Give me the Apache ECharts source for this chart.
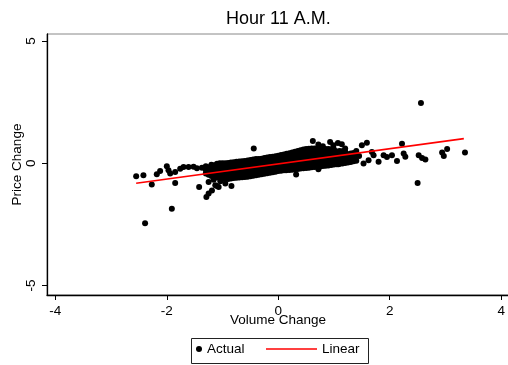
<!DOCTYPE html>
<html>
<head>
<meta charset="utf-8">
<script src="https://cdn.jsdelivr.net/npm/echarts@6/dist/echarts.min.js"></script>
<style>
  html, body { margin: 0; padding: 0; background: #fff; }
  #chart { width: 508px; height: 365px; }
</style>
</head>
<body>
<div id="chart"></div>
<script>
// ticks
const xTicks = [-4, -2, 0, 2, 4];
const yTicks = [-5, 0, 5];

const actualOutliers = [
  [-2.55, -0.53], [-2.42, -0.49], [-2.27, -0.87], [-2.39, -2.45], [-1.91, -1.86],
  [-2.18, -0.45], [-2.12, -0.32], [-2.0, -0.12], [-1.94, -0.42], [-1.97, -0.29],
  [-1.85, -0.36], [-1.85, -0.81], [-1.76, -0.22], [-1.70, -0.15], [-1.61, -0.15],
  [-1.52, -0.14], [-1.46, -0.2], [-1.42, -0.97], [-1.29, -1.38], [-1.25, -1.24],
  [-1.19, -1.11], [-1.13, -0.9], [-1.10, -0.93], [-1.25, -0.77], [-1.16, -0.67],
  [-1.04, -0.74], [-0.95, -0.83], [-0.84, -0.93], [-1.07, -0.97], [-1.37, -0.18],
  [-0.44, 0.6], [0.14, -0.29], [0.32, -0.46], [0.72, -0.24], [0.62, 0.91],
  [0.72, 0.77], [0.8, 0.7], [0.93, 0.87], [0.99, 0.74], [1.07, 0.83],
  [1.14, 0.78], [1.5, 0.74], [1.59, 0.84], [1.53, -0.01], [1.45, 0.3],
  [1.62, 0.12], [1.68, 0.46], [1.71, 0.33], [1.80, 0.06], [1.89, 0.33],
  [1.95, 0.26], [2.04, 0.33], [2.13, 0.09], [2.22, 0.8], [2.25, 0.4],
  [2.28, 0.27], [2.52, 0.33], [2.58, 0.22], [2.64, 0.15], [2.56, 2.47],
  [2.5, -0.81], [2.94, 0.44], [2.97, 0.3], [3.03, 0.58], [3.35, 0.44],
  [1.08, -0.04], [1.3, 0.05], [1.4, 0.5], [1.2, 0.6]
];

// the dense core of the cloud, column by column
const actualCore = [
  [-1.3, -0.42], [-1.3, -0.28], [-1.3, -0.12],
  [-1.25, -0.47], [-1.25, -0.32], [-1.25, -0.16],
  [-1.2, -0.52], [-1.2, -0.36], [-1.2, -0.2], [-1.2, -0.06],
  [-1.15, -0.55], [-1.15, -0.39], [-1.15, -0.23], [-1.15, -0.08],
  [-1.1, -0.58], [-1.1, -0.42], [-1.1, -0.26], [-1.1, -0.1], [-1.1, -0.02],
  [-1.05, -0.6], [-1.05, -0.44], [-1.05, -0.28], [-1.05, -0.12], [-1.05, 0.0],
  [-1.0, -0.62], [-1.0, -0.46], [-1.0, -0.3], [-1.0, -0.14], [-1.0, 0.0],
  [-0.95, -0.63], [-0.95, -0.47], [-0.95, -0.31], [-0.95, -0.15], [-0.95, 0.0],
  [-0.9, -0.64], [-0.9, -0.48], [-0.9, -0.32], [-0.9, -0.16], [-0.9, 0.01],
  [-0.85, -0.62], [-0.85, -0.46], [-0.85, -0.3], [-0.85, -0.14], [-0.85, 0.03],
  [-0.8, -0.6], [-0.8, -0.44], [-0.8, -0.28], [-0.8, -0.12], [-0.8, 0.04],
  [-0.75, -0.59], [-0.75, -0.43], [-0.75, -0.27], [-0.75, -0.11], [-0.75, 0.06],
  [-0.7, -0.58], [-0.7, -0.42], [-0.7, -0.26], [-0.7, -0.1], [-0.7, 0.07],
  [-0.65, -0.57], [-0.65, -0.41], [-0.65, -0.25], [-0.65, -0.09], [-0.65, 0.08],
  [-0.6, -0.56], [-0.6, -0.4], [-0.6, -0.24], [-0.6, -0.08], [-0.6, 0.09],
  [-0.55, -0.55], [-0.55, -0.39], [-0.55, -0.23], [-0.55, -0.07], [-0.55, 0.11],
  [-0.5, -0.53], [-0.5, -0.37], [-0.5, -0.21], [-0.5, -0.05], [-0.5, 0.13],
  [-0.45, -0.51], [-0.45, -0.35], [-0.45, -0.19], [-0.45, -0.03], [-0.45, 0.15],
  [-0.4, -0.49], [-0.4, -0.33], [-0.4, -0.17], [-0.4, -0.01], [-0.4, 0.17],
  [-0.35, -0.47], [-0.35, -0.31], [-0.35, -0.15], [-0.35, 0.01], [-0.35, 0.18],
  [-0.3, -0.45], [-0.3, -0.29], [-0.3, -0.13], [-0.3, 0.03], [-0.3, 0.19],
  [-0.25, -0.43], [-0.25, -0.27], [-0.25, -0.11], [-0.25, 0.05], [-0.25, 0.22],
  [-0.2, -0.41], [-0.2, -0.25], [-0.2, -0.09], [-0.2, 0.07], [-0.2, 0.24],
  [-0.15, -0.39], [-0.15, -0.23], [-0.15, -0.07], [-0.15, 0.09], [-0.15, 0.26],
  [-0.1, -0.37], [-0.1, -0.21], [-0.1, -0.05], [-0.1, 0.11], [-0.1, 0.27],
  [-0.05, -0.35], [-0.05, -0.19], [-0.05, -0.03], [-0.05, 0.13], [-0.05, 0.29],
  [0.0, -0.32], [0.0, -0.16], [0.0, 0.0], [0.0, 0.16], [0.0, 0.31],
  [0.05, -0.31], [0.05, -0.15], [0.05, 0.01], [0.05, 0.17], [0.05, 0.34],
  [0.1, -0.29], [0.1, -0.13], [0.1, 0.03], [0.1, 0.19], [0.1, 0.36],
  [0.15, -0.28], [0.15, -0.12], [0.15, 0.05], [0.15, 0.22], [0.15, 0.39],
  [0.2, -0.27], [0.2, -0.1], [0.2, 0.07], [0.2, 0.24], [0.2, 0.41],
  [0.25, -0.26], [0.25, -0.09], [0.25, 0.08], [0.25, 0.26], [0.25, 0.44],
  [0.3, -0.24], [0.3, -0.07], [0.3, 0.1], [0.3, 0.28], [0.3, 0.47],
  [0.35, -0.23], [0.35, -0.05], [0.35, 0.12], [0.35, 0.3], [0.35, 0.5],
  [0.4, -0.21], [0.4, -0.03], [0.4, 0.15], [0.4, 0.33], [0.4, 0.53],
  [0.45, -0.2], [0.45, -0.02], [0.45, 0.17], [0.45, 0.36], [0.45, 0.56],
  [0.5, -0.19], [0.5, 0.0], [0.5, 0.19], [0.5, 0.38], [0.5, 0.58],
  [0.55, -0.18], [0.55, 0.02], [0.55, 0.2], [0.55, 0.4], [0.55, 0.59],
  [0.6, -0.16], [0.6, 0.03], [0.6, 0.22], [0.6, 0.41], [0.6, 0.6],
  [0.65, -0.15], [0.65, 0.04], [0.65, 0.23], [0.65, 0.42], [0.65, 0.6],
  [0.7, -0.14], [0.7, 0.05], [0.7, 0.24], [0.7, 0.43], [0.7, 0.61],
  [0.75, -0.13], [0.75, 0.06], [0.75, 0.25], [0.75, 0.43], [0.75, 0.6],
  [0.8, -0.11], [0.8, 0.08], [0.8, 0.27], [0.8, 0.44], [0.8, 0.59],
  [0.85, -0.1], [0.85, 0.09], [0.85, 0.28], [0.85, 0.45], [0.85, 0.58],
  [0.9, -0.09], [0.9, 0.1], [0.9, 0.29], [0.9, 0.45], [0.9, 0.58],
  [0.95, -0.07], [0.95, 0.11], [0.95, 0.3], [0.95, 0.46], [0.95, 0.57],
  [1.0, -0.05], [1.0, 0.13], [1.0, 0.31], [1.0, 0.47], [1.0, 0.56],
  [1.05, -0.04], [1.05, 0.14], [1.05, 0.32], [1.05, 0.48],
  [1.1, -0.02], [1.1, 0.15], [1.1, 0.33], [1.1, 0.5],
  [1.15, -0.01], [1.15, 0.17], [1.15, 0.34], [1.15, 0.49],
  [1.2, 0.01], [1.2, 0.18], [1.2, 0.35], [1.2, 0.48],
  [1.25, 0.03], [1.25, 0.2], [1.25, 0.37],
  [1.3, 0.22], [1.3, 0.4],
  [1.35, 0.08], [1.35, 0.26], [1.35, 0.42],
  [1.4, 0.1], [1.4, 0.3]
];

// fitted line end points
const linearX = [-2.55, 3.33];
const linearY = [-0.82, 1.01];

const FONT = 'Liberation Sans, Arial, sans-serif';

const chart = echarts.init(document.getElementById('chart'));

const option = {
  backgroundColor: '#fff',
  animation: false,
  title: {
    text: 'Hour 11 A.M.',
    left: 226,
    top: 10,
    padding: 0,
    textStyle: { fontFamily: FONT, fontSize: 18, fontWeight: 'normal', color: '#000' }
  },
  grid: {
    left: 47, top: 34, width: 462, height: 261,
    outerBoundsMode: 'none',
    containLabel: false,
    show: true, borderColor: '#888', borderWidth: 1, backgroundColor: '#fff'
  },
  legend: [
    {
      data: ['Actual'],
      left: 196, top: 342, padding: 0,
      itemWidth: 6, itemHeight: 6,
      textStyle: { fontFamily: FONT, fontSize: 13.5, color: '#000' }
    },
    {
      data: [{ name: 'Linear', icon: 'rect' }],
      left: 266, top: 342, padding: 0,
      itemWidth: 51, itemHeight: 1.5,
      textStyle: { fontFamily: FONT, fontSize: 13.5, color: '#000' }
    }
  ],
  graphic: [{
    type: 'rect',
    shape: { x: 191.5, y: 338.5, width: 177, height: 25 },
    style: { fill: 'none', stroke: '#222', lineWidth: 1 },
    z: 100
  }],
  xAxis: {
    type: 'value',
    min: -4.15, max: 4.14,
    name: 'Volume Change',
    nameLocation: 'middle',
    nameGap: 18,
    nameMoveOverlap: false,
    nameTextStyle: { fontFamily: FONT, fontSize: 13.5, color: '#000' },
    splitLine: { show: false },
    axisLine: { onZero: false, lineStyle: { color: '#000', width: 1.3 } },
    axisTick: { customValues: xTicks, length: 5, lineStyle: { color: '#000' } },
    axisLabel: {
      customValues: xTicks, margin: 9,
      fontFamily: FONT, fontSize: 13.5, color: '#000'
    }
  },
  yAxis: {
    type: 'value',
    min: -5.39, max: 5.29,
    name: 'Price Change',
    nameLocation: 'middle',
    nameGap: 23,
    nameMoveOverlap: false,
    nameRotate: 90,
    nameTextStyle: { fontFamily: FONT, fontSize: 13.5, color: '#000' },
    splitLine: { show: false },
    axisLine: { onZero: false, lineStyle: { color: '#000', width: 1.3 } },
    axisTick: { customValues: yTicks, length: 5, lineStyle: { color: '#000' } },
    axisLabel: {
      customValues: yTicks, rotate: 90, margin: 9,
      fontFamily: FONT, fontSize: 13.5, color: '#000'
    }
  },
  series: [
    {
      name: 'Actual',
      type: 'scatter',
      symbol: 'circle',
      symbolSize: 6,
      itemStyle: { color: '#000', opacity: 1 },
      data: actualOutliers.concat(actualCore),
      z: 2
    },
    {
      name: 'Linear',
      type: 'line',
      symbol: 'none',
      lineStyle: { color: '#ff0000', width: 1.6 },
      itemStyle: { color: '#ff0000' },
      data: linearX.map((x, i) => [x, linearY[i]]),
      z: 3
    }
  ]
};

chart.setOption(option);
</script>
</body>
</html>
